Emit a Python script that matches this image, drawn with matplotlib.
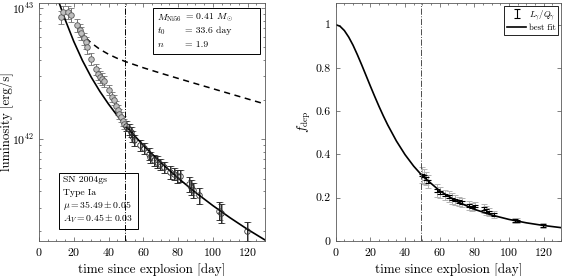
import numpy as np
import matplotlib
matplotlib.use("Agg")
from matplotlib import pyplot as plt
from matplotlib.patches import Rectangle
from matplotlib.ticker import MultipleLocator, FixedLocator

plt.rcParams['font.family'] = 'serif'
plt.rcParams['font.serif'] = ['cmr10']
plt.rcParams['mathtext.fontset'] = 'cm'
plt.rcParams['axes.formatter.use_mathtext'] = True

# bolometric luminosity, 1e42 erg/s
t_lum = [12.7, 14.0, 16.9, 18.3, 22.1, 23.3, 24.2, 25.6, 27.1, 27.6, 29.8, 32.9, 34.2, 35.2,
         36.2, 37.5, 40.0, 41.9, 42.9, 44.4, 45.2, 46.3, 47.1, 48.3, 49.0, 50.2, 51.5, 52.9,
         53.5, 54.4, 58.3, 60.2, 63.1, 64.0, 66.0, 67.9, 69.8, 71.7, 75.6, 77.5, 79.4, 81.0,
         86.2, 87.5, 88.7, 91.9, 103.5, 104.8, 119.8]
lum = [8.5, 9.3, 9.3, 8.9, 7.4, 6.8, 6.4, 5.85, 5.45, 5.0, 4.1, 3.4, 3.16, 2.98,
       2.88, 2.76, 2.38, 2.11, 2.0, 1.8, 1.67, 1.55, 1.48, 1.38, 1.30, 1.26, 1.19, 1.14,
       1.05, 0.98, 0.90, 0.85, 0.776, 0.73, 0.69, 0.67, 0.646, 0.61, 0.56, 0.545, 0.52, 0.527,
       0.457, 0.43, 0.407, 0.372, 0.285, 0.275, 0.20]
lum_err = [0.12, 0.12, 0.12, 0.12, 0.11, 0.11, 0.11, 0.11, 0.11, 0.11, 0.10, 0.10, 0.10, 0.10,
           0.10, 0.10, 0.09, 0.09, 0.09, 0.09, 0.09, 0.09, 0.09, 0.09, 0.09, 0.09, 0.09, 0.09,
           0.09, 0.09, 0.10, 0.10, 0.10, 0.10, 0.10, 0.10, 0.10, 0.10, 0.11, 0.11, 0.11, 0.11,
           0.13, 0.13, 0.13, 0.14, 0.16, 0.16, 0.16]

# best fit luminosity and full deposition curve, 1e42 erg/s
t_fit = [10, 12, 15, 20, 25, 30, 35, 40, 45, 50, 60, 70, 80, 90, 100, 110, 120, 130]
lum_fit = [12.61, 10.54, 8.17, 5.55, 3.967, 2.971, 2.310, 1.847, 1.510, 1.253, 0.896, 0.663,
           0.504, 0.392, 0.311, 0.2506, 0.2048, 0.170]
t_q = [27, 30, 35, 40, 45, 50, 60, 70, 80, 90, 100, 110, 120, 130]
q_dep = [5.894, 5.415, 4.837, 4.431, 4.127, 3.884, 3.497, 3.179, 2.901, 2.649, 2.421, 2.213,
         2.023, 1.849]

# deposition fraction
t_f = [49.7, 51.0, 52.2, 53.5, 58.4, 60.3, 63.2, 65.1, 67.0, 69.0, 70.9, 72.8, 76.7, 78.6,
       80.5, 85.3, 86.9, 88.2, 91.1, 103.5, 104.8, 119.8]
f_obs = [0.305, 0.30, 0.29, 0.274, 0.233, 0.225, 0.213, 0.205, 0.195, 0.19, 0.183, 0.177,
         0.164, 0.157, 0.161, 0.149, 0.142, 0.134, 0.122, 0.095, 0.093, 0.072]
f_err = [0.035, 0.035, 0.03, 0.03, 0.03, 0.025, 0.025, 0.025, 0.025, 0.022, 0.022, 0.022,
         0.02, 0.02, 0.02, 0.02, 0.02, 0.02, 0.015, 0.012, 0.012, 0.012]
t_ffit = [0, 2.5, 5, 7.5, 10, 12.5, 15, 17.5, 20, 22.5, 25, 27.5, 30, 35, 40, 45, 50, 60, 70,
          80, 90, 100, 110, 120, 130]
f_fit = [1.0, 0.9925, 0.9726, 0.9425, 0.905, 0.861, 0.814, 0.7651, 0.716, 0.6682, 0.6219,
         0.5779, 0.5367, 0.4625, 0.3992, 0.3459, 0.301, 0.2319, 0.1825, 0.1466, 0.1199, 0.0997,
         0.084, 0.0716, 0.0618]

t_cut = 49.5

fig = plt.figure(figsize=(5.62, 2.76), dpi=100)
ax1 = fig.add_axes([39/562, 35/276, 226/562, 238/276])
ax2 = fig.add_axes([335.7/562, 35/276, 225.3/562, 238/276])

t_lum = np.array(t_lum)
L = np.array(lum)*1e42
Le = L*np.array(lum_err)
early = t_lum < t_cut
ax1.errorbar(t_lum[early], L[early], yerr=Le[early], fmt='o', ms=4, mfc='0.75', mec='0.35',
             mew=0.6, ecolor='0.45', elinewidth=0.7, capsize=2, capthick=0.7)
ax1.errorbar(t_lum[~early] + 0.6, L[~early], yerr=Le[~early], fmt='none', ecolor='0.6',
             elinewidth=0.7, capsize=2, capthick=0.7)
ax1.errorbar(t_lum[~early], L[~early], yerr=Le[~early], fmt='o', ms=4, mfc='none', mec='0.2',
             mew=0.6, ecolor='0.15', elinewidth=0.7, capsize=2, capthick=0.7)
ax1.plot(t_fit, np.array(lum_fit)*1e42, 'k-', lw=1.2)
ax1.plot(t_q, np.array(q_dep)*1e42, 'k--', lw=1.1, dashes=(4, 3))
ax1.axvline(t_cut, color='k', ls='-.', lw=0.7)
ax1.set_yscale('log')
ax1.set_xlim(0, 130)
ax1.set_ylim(1.67e41, 1.09e43)
ax1.set_xlabel('time since explosion [day]', fontsize=9.5)
ax1.set_ylabel('luminosity [erg/s]', fontsize=9.3)
ax1.yaxis.set_label_coords(-0.112, 0.5)
ax1.yaxis.set_major_locator(FixedLocator([1e42, 1e43]))

# parameter box
ax1.add_patch(Rectangle((0.504, 0.787), 0.474, 0.192, transform=ax1.transAxes, fill=False,
                        ec='k', lw=0.7, zorder=5))
for i, (name, val) in enumerate([(r'$M_{\rm Ni56}$', r'= 0.41 $M_\odot$'),
                                 (r'$t_0$', '= 33.6 day'),
                                 (r'$n$', '= 1.9')]):
    y = 0.938 - i*0.056
    ax1.text(0.522, y, name, transform=ax1.transAxes, fontsize=7, va='center')
    ax1.text(0.648, y, val, transform=ax1.transAxes, fontsize=7, va='center')

# SN box
ax1.add_patch(Rectangle((0.0885, 0.05), 0.35, 0.237, transform=ax1.transAxes, fill=False,
                        ec='k', lw=0.7, zorder=5))
sn_lines = ['SN 2004gs', 'Type Ia', r'$\mu = 35.49 \pm 0.05$', r'$A_V = 0.45 \pm 0.03$']
for i, s in enumerate(sn_lines):
    ax1.text(0.105, 0.257 - i*0.054, s, transform=ax1.transAxes, fontsize=7, va='center')

ax2.errorbar(t_f, f_obs, yerr=f_err, fmt='none', ecolor='0.7', elinewidth=0.7, capsize=2,
             capthick=0.7)
eb = ax2.errorbar(t_f, f_obs, yerr=0.006, fmt='none', ecolor='k', elinewidth=0.8, capsize=2,
                  capthick=0.8)
ln, = ax2.plot(t_ffit, f_fit, 'k-', lw=1.2)
ax2.axvline(t_cut, color='0.3', ls='-.', lw=0.7)
ax2.set_xlim(0, 130)
ax2.set_ylim(0, 1.1)
ax2.set_yticks([0, 0.2, 0.4, 0.6, 0.8, 1])
ax2.set_yticklabels(['0', '0.2', '0.4', '0.6', '0.8', '1'])
ax2.set_xlabel('time since explosion [day]', fontsize=9.5)
ax2.set_ylabel(r'$f_{\rm dep}$', fontsize=9.5, labelpad=2)
leg = ax2.legend([eb, ln], [r'$L_\gamma/Q_\gamma$', 'best fit'], loc='upper right',
                 fontsize=6.3, frameon=True, fancybox=False, edgecolor='k', framealpha=1,
                 borderpad=0.3, handlelength=2.2, handletextpad=0.3, labelspacing=0.2,
                 borderaxespad=0.3)
leg.get_frame().set_linewidth(0.6)

for ax in (ax1, ax2):
    ax.set_xticks(range(0, 121, 20))
    ax.xaxis.set_minor_locator(MultipleLocator(5))
    ax.tick_params(which='both', direction='in', top=True, right=True, labelsize=8.5,
                   width=0.5, color='0.3')
    ax.tick_params(which='major', length=3)
    ax.tick_params(which='minor', length=1.5)
    for sp in ax.spines.values():
        sp.set_linewidth(0.6)
        sp.set_color('0.35')

fig.savefig('out.png', dpi=100)
